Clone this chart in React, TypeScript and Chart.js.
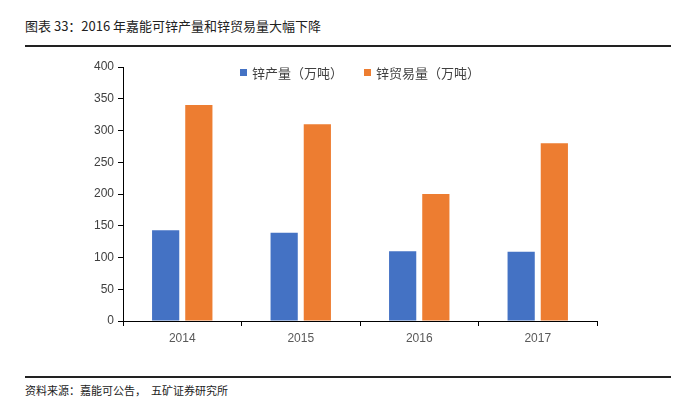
import React, { useEffect, useRef } from "react";
import { Chart, registerables } from "chart.js";

Chart.register(...registerables);

const categories = ["2014", "2015", "2016", "2017"];
const productionValues = [143, 139, 110, 109];
const tradeValues = [340, 310, 200, 280];
const seriesNames = ["锌产量（万吨）", "锌贸易量（万吨）"];
const seriesColors = ["#4472C4", "#ED7D31"];
const titleText = "图表 33：2016 年嘉能可锌产量和锌贸易量大幅下降";
const sourceText = "资料来源：嘉能可公告，  五矿证券研究所";

export default function App() {
  const ref = useRef<HTMLCanvasElement | null>(null);

  useEffect(() => {
    document.body.style.margin = "0";
    const ctx = ref.current;
    if (!ctx) return;
    const chart = new Chart(ctx, {
      type: "bar",
      data: {
        labels: categories,
        datasets: [
          {
            label: seriesNames[0],
            data: productionValues,
            backgroundColor: seriesColors[0],
            categoryPercentage: 0.56,
            barPercentage: 0.82,
          },
          {
            label: seriesNames[1],
            data: tradeValues,
            backgroundColor: seriesColors[1],
            categoryPercentage: 0.56,
            barPercentage: 0.82,
          },
        ],
      },
      options: {
        animation: false,
        responsive: false,
        devicePixelRatio: 1,
        layout: { padding: { top: 12, right: 13, left: 0, bottom: 0 } },
        plugins: { legend: { display: false }, tooltip: { enabled: false } },
        scales: {
          x: {
            offset: true,
            grid: {
              offset: true,
              drawOnChartArea: false,
              drawTicks: true,
              tickLength: 5,
              color: "#000",
            },
            border: { color: "#000", width: 1 },
            ticks: {
              color: "#595959",
              font: { family: "Liberation Sans", size: 12 },
              padding: 5,
            },
            afterFit: (s: any) => {
              s.height = 29;
            },
          },
          y: {
            min: 0,
            max: 400,
            grid: {
              drawOnChartArea: false,
              drawTicks: true,
              tickLength: 5,
              color: "#000",
            },
            border: { color: "#000", width: 1 },
            ticks: {
              stepSize: 50,
              color: "#404040",
              font: { family: "Liberation Sans", size: 12 },
              padding: 4,
            },
            afterFit: (s: any) => {
              s.width = 43;
            },
          },
        },
      },
    });
    return () => chart.destroy();
  }, []);

  const legendItem = (i: number, left: number) => (
    <div
      style={{
        position: "absolute",
        left,
        top: 63,
        display: "flex",
        alignItems: "center",
        fontFamily: "'Noto Sans CJK SC', sans-serif",
        fontSize: 13,
        color: "#404040",
        whiteSpace: "nowrap",
      }}
    >
      <span
        style={{
          display: "inline-block",
          width: 7,
          height: 7,
          background: seriesColors[i],
          marginRight: 5,
        }}
      />
      {seriesNames[i]}
    </div>
  );

  return (
    <div
      style={{
        position: "fixed",
        left: 0,
        top: 0,
        width: 688,
        height: 408,
        background: "#fff",
        overflow: "hidden",
      }}
    >
      <div
        style={{
          position: "absolute",
          left: 25,
          top: 16,
          fontFamily: "'Noto Sans CJK SC', sans-serif",
          fontSize: 13,
          color: "#222",
          whiteSpace: "nowrap",
        }}
      >
        {titleText}
      </div>
      <div
        style={{
          position: "absolute",
          left: 25,
          top: 45,
          width: 646,
          height: 2,
          background: "#222",
        }}
      />
      <canvas
        ref={ref}
        width={530}
        height={295}
        style={{ position: "absolute", left: 80, top: 55, width: 530, height: 295 }}
      />
      {legendItem(0, 240)}
      {legendItem(1, 364)}
      <div
        style={{
          position: "absolute",
          left: 25,
          top: 376,
          width: 646,
          height: 2,
          background: "#222",
        }}
      />
      <div
        style={{
          position: "absolute",
          left: 25,
          top: 382,
          fontFamily: "'Noto Sans CJK SC', sans-serif",
          fontSize: 11,
          color: "#222",
          whiteSpace: "pre",
        }}
      >
        {sourceText}
      </div>
    </div>
  );
}
